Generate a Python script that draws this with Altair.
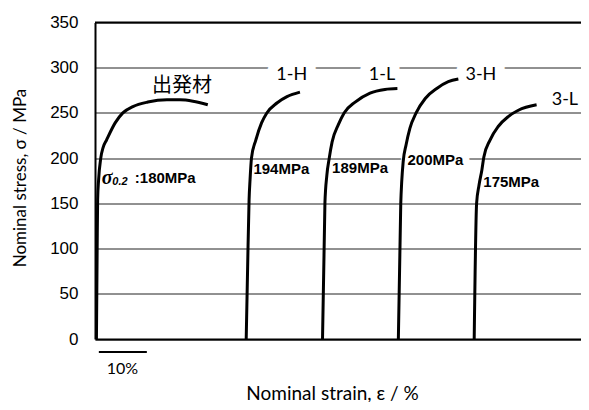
import altair as alt
import pandas as pd

# ---- stress-strain curves (strain in % from left edge, stress in MPa) ----
series_names = ["出発材", "1-H", "1-L", "3-H", "3-L"]
c0_strain = [0.3, 0.45, 0.55, 0.75, 1.2, 1.7, 2.4, 4.2, 5.8, 7.9, 11.0, 15.0, 17.7, 20.4, 23.5]
c0_stress = [0, 100, 154, 176, 200, 212, 220, 239, 250, 257, 262, 264.5, 264.5, 263, 259]
c1_strain = [31.5, 31.8, 32.1, 32.3, 32.6, 33.5, 34.7, 35.8, 37.9, 40.0, 42.7]
c1_stress = [0, 80, 154, 176, 200, 220, 239, 250, 261, 268, 273]
c2_strain = [47.4, 47.9, 48.3, 48.8, 49.4, 50.7, 51.9, 54.2, 57.3, 60.4, 63.0]
c2_stress = [0, 150, 181, 200, 218, 237, 250, 262, 272, 276, 277]
c3_strain = [63.2, 63.7, 63.9, 64.2, 64.8, 65.6, 66.9, 68.8, 71.2, 73.6, 75.7]
c3_stress = [0, 150, 174, 196, 214.5, 233, 250, 266, 277, 284.5, 287.5]
c4_strain = [79.0, 79.5, 80.0, 80.6, 81.0, 82.3, 84.0, 86.1, 88.2, 92.0]
c4_stress = [0, 150, 170, 187, 201, 220, 235, 246, 253, 259]

# ---- curve labels ----
label_text = ["出発材", "1-H", "1-L", "3-H", "3-L"]
label_strain = [18.1, 41.0, 59.8, 80.4, 97.9]
label_stress = [279.8, 292.0, 292.0, 291.4, 264.3]
label_halo = [0, 20, 20, 20, 0]

# ---- yield strength labels ----
mpa_text = ["194MPa", "189MPa", "200MPa", "175MPa"]
mpa_strain = [33.0, 49.4, 65.1, 80.9]
mpa_stress = [188.3, 188.7, 198.0, 173.6]
mpa_halo = [0, 0, 14, 0]

sig_strain, sig_stress = 1.4, 177.5
sub_strain, sub_stress = 3.6, 174.0
val_strain, val_stress, val_text = 8.3, 177.5, ":180MPa"

# ---- scale bar ----
bar_start, bar_end, bar_stress = 0.8, 10.8, -14.4
bar_text, bar_text_strain, bar_text_stress = "10%", 5.7, -33.0

y_ticks = [0, 50, 100, 150, 200, 250, 300, 350]

rows = []
for name, xs_, ys_ in zip(series_names,
                          [c0_strain, c1_strain, c2_strain, c3_strain, c4_strain],
                          [c0_stress, c1_stress, c2_stress, c3_stress, c4_stress]):
    for i, (a, b) in enumerate(zip(xs_, ys_)):
        rows.append({"series": name, "strain": a, "stress": b, "order": i})
curves = pd.DataFrame(rows)

labels = pd.DataFrame({"text": label_text, "strain": label_strain,
                       "stress": label_stress, "halo": label_halo})
mpa = pd.DataFrame({"text": mpa_text, "strain": mpa_strain,
                    "stress": mpa_stress, "halo": mpa_halo})

xs = alt.Scale(domain=[0, 101.25], nice=False, zero=False)
ys = alt.Scale(domain=[0, 350], nice=False)

X = alt.X("strain:Q", scale=xs, axis=alt.Axis(
    labels=False, ticks=False, grid=False, domainColor="black", domainWidth=2,
    title="Nominal strain, ε / %", titleFont="Lato", titleFontSize=19,
    titleFontWeight="normal", titleColor="black",
    titleX=237, titleY=54, titleAlign="center", titleBaseline="middle"))
Y = alt.Y("stress:Q", scale=ys, axis=alt.Axis(
    values=y_ticks, grid=True, gridColor="#222222", gridWidth=1, ticks=False,
    domainColor="black", domainWidth=2,
    labelFont="Liberation Sans", labelFontSize=17, labelColor="black", labelPadding=17,
    title="Nominal stress, σ / MPa", titleFont="Lato", titleFontSize=17,
    titleFontWeight="normal", titleColor="black", titleAngle=270,
    titleX=-75, titleY=155, titleAlign="center", titleBaseline="middle"))

lines = alt.Chart(curves).mark_line(color="black", strokeWidth=3,
                                    interpolate="monotone").encode(
    x=X, y=Y, detail="series:N", order="order:Q")

top_rule = alt.Chart(pd.DataFrame({"stress": [350]})).mark_rule(
    color="black", strokeWidth=2).encode(y=alt.Y("stress:Q", scale=ys))

halo_lab = alt.Chart(labels).transform_filter("datum.halo > 0").mark_text(
    font="Lato", fontSize=18, align="center", baseline="middle",
    color="white", stroke="white", strokeJoin="round").encode(
    x=alt.X("strain:Q", scale=xs), y=alt.Y("stress:Q", scale=ys), text="text:N",
    strokeWidth=alt.StrokeWidth("halo:Q", scale=None))
halo_mpa = alt.Chart(mpa).transform_filter("datum.halo > 0").mark_text(
    font="Liberation Sans", fontSize=15, fontWeight="bold", align="left",
    baseline="middle", color="white", stroke="white", strokeJoin="round").encode(
    x=alt.X("strain:Q", scale=xs), y=alt.Y("stress:Q", scale=ys), text="text:N",
    strokeWidth=alt.StrokeWidth("halo:Q", scale=None))

lab_jp = alt.Chart(labels[labels.text == "出発材"]).mark_text(
    font="Noto Sans CJK JP", fontSize=20, align="center", baseline="middle",
    color="black").encode(x=alt.X("strain:Q", scale=xs),
                          y=alt.Y("stress:Q", scale=ys), text="text:N")
lab_en = alt.Chart(labels[labels.text != "出発材"]).mark_text(
    font="Lato", fontSize=18, align="center", baseline="middle",
    color="black").encode(x=alt.X("strain:Q", scale=xs),
                          y=alt.Y("stress:Q", scale=ys), text="text:N")
lab_mpa = alt.Chart(mpa).mark_text(
    font="Liberation Sans", fontSize=15, fontWeight="bold", align="left",
    baseline="middle", color="black").encode(
    x=alt.X("strain:Q", scale=xs), y=alt.Y("stress:Q", scale=ys), text="text:N")

sig = alt.Chart(pd.DataFrame({"strain": [sig_strain], "stress": [sig_stress], "t": ["σ"]})).mark_text(
    font="Liberation Serif", fontSize=20, fontStyle="italic", fontWeight="bold",
    align="left", baseline="middle", color="black").encode(
    x=alt.X("strain:Q", scale=xs), y=alt.Y("stress:Q", scale=ys), text="t:N")
sub = alt.Chart(pd.DataFrame({"strain": [sub_strain], "stress": [sub_stress], "t": ["0.2"]})).mark_text(
    font="Liberation Sans", fontSize=11, fontStyle="italic", fontWeight="bold",
    align="left", baseline="middle", color="black").encode(
    x=alt.X("strain:Q", scale=xs), y=alt.Y("stress:Q", scale=ys), text="t:N")
val = alt.Chart(pd.DataFrame({"strain": [val_strain], "stress": [val_stress], "t": [val_text]})).mark_text(
    font="Liberation Sans", fontSize=15, fontWeight="bold",
    align="left", baseline="middle", color="black").encode(
    x=alt.X("strain:Q", scale=xs), y=alt.Y("stress:Q", scale=ys), text="t:N")

bar = alt.Chart(pd.DataFrame({"a": [bar_start], "b": [bar_end], "stress": [bar_stress]})).mark_rule(
    color="black", strokeWidth=2).encode(
    x=alt.X("a:Q", scale=xs), x2="b:Q", y=alt.Y("stress:Q", scale=ys))
bar_lab = alt.Chart(pd.DataFrame({"strain": [bar_text_strain], "stress": [bar_text_stress], "t": [bar_text]})).mark_text(
    font="Lato", fontSize=16, align="center", baseline="middle", color="black").encode(
    x=alt.X("strain:Q", scale=xs), y=alt.Y("stress:Q", scale=ys), text="t:N")

chart = alt.layer(
    lines.mark_line(opacity=0).encode(x=X, y=Y),
    halo_lab, halo_mpa, top_rule, lines, lab_jp, lab_en, lab_mpa,
    sig, sub, val, bar, bar_lab
).properties(
    width=486, height=316.5,
    padding={"left": 87, "top": 14.5, "right": 0, "bottom": 63},
    autosize=alt.AutoSizeParams(type="none"),
    background="white",
).configure_view(stroke=None)

chart.save("out.html", embed_options={"renderer": "svg", "actions": False})
